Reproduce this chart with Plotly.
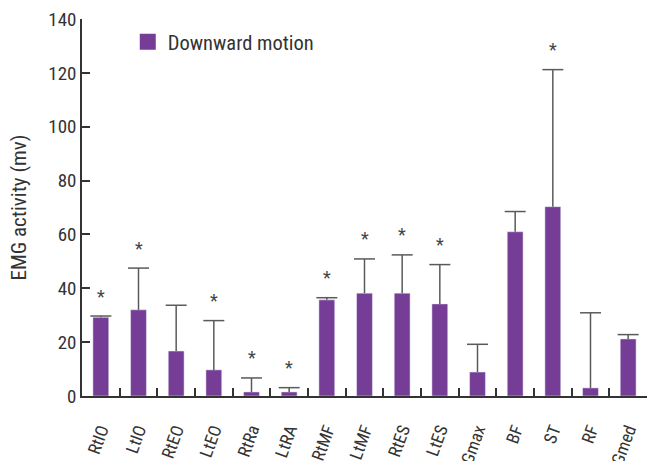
import plotly.graph_objects as go

categories = ["RtIO", "LtIO", "RtEO", "LtEO", "RtRa", "LtRA", "RtMF", "LtMF",
              "RtES", "LtES", "Gmax", "BF", "ST", "RF", "Gmed"]
means = [29.2, 32.0, 16.7, 9.7, 1.5, 1.5, 35.7, 38.2, 38.2, 34.2, 8.9, 61.0, 70.3, 3.0, 21.2]
sd = [0.5, 15.5, 17.0, 18.3, 5.2, 1.6, 0.8, 12.7, 14.2, 14.6, 10.3, 7.5, 50.9, 27.9, 1.6]
significant = [True, True, False, True, True, True, True, True, True, True,
               False, False, True, False, False]
y_ticks = [0, 20, 40, 60, 80, 100, 120, 140]

FONT = "Roboto Condensed, Liberation Sans Narrow, sans-serif"
PURPLE = "#753D96"
GREY = "#5a5a5a"

tops = [m + s for m, s in zip(means, sd)]

fig = go.Figure()
fig.add_trace(go.Bar(x=categories, y=means, marker_color=PURPLE, width=0.42,
                     showlegend=False, hoverinfo="skip"))

# error bar stems
sx, sy = [], []
for c, m, t in zip(categories, means, tops):
    sx += [c, c, None]
    sy += [m, t, None]
fig.add_trace(go.Scatter(x=sx, y=sy, mode="lines", line=dict(color=GREY, width=1.5),
                         showlegend=False, hoverinfo="skip"))
# error bar caps
fig.add_trace(go.Scatter(x=categories, y=tops, mode="markers",
                         marker=dict(symbol="line-ew", size=15,
                                     line=dict(color=GREY, width=1.5)),
                         showlegend=False, hoverinfo="skip"))
# legend entry
fig.add_trace(go.Scatter(x=[None], y=[None], mode="markers", name="Downward motion",
                         marker=dict(symbol="square", size=18, color=PURPLE)))

for c, t, s in zip(categories, tops, significant):
    if s:
        fig.add_annotation(x=c, y=t, text="*", showarrow=False, yshift=20,
                           yanchor="middle", font=dict(family=FONT, size=18, color="#444"))

fig.update_layout(
    width=656, height=461,
    margin=dict(l=82, r=9, t=19, b=65, autoexpand=False),
    plot_bgcolor="white", paper_bgcolor="white",
    font=dict(family=FONT, color="#333"),
    legend=dict(x=0.081, y=0.992, xanchor="left", yanchor="top",
                font=dict(family=FONT, size=20.5, color="#333"),
                bgcolor="rgba(0,0,0,0)", itemwidth=30),
)
fig.update_xaxes(type="category", tickangle=-70, ticks="inside", tickson="boundaries",
                 ticklen=8, tickwidth=1.5, tickcolor="#333", automargin=False,
                 showline=True, linecolor="#333", linewidth=1.5, showgrid=False,
                 tickfont=dict(family=FONT, size=17.5, color="#333"),
                 ticklabelstandoff=15, ticklabeloverflow="allow", range=[-0.5, 14.5])
fig.update_yaxes(range=[0, 140], tickvals=y_ticks, ticks="inside", ticklen=8,
                 tickwidth=1.5, tickcolor="#333", showline=True, linecolor="#333",
                 linewidth=1.5, showgrid=False, zeroline=False, automargin=False,
                 tickfont=dict(family=FONT, size=19, color="#333"),
                 ticklabeloverflow="allow",
                 title=dict(text="EMG activity (mv)", font=dict(family=FONT, size=21, color="#333"),
                            standoff=16))

# remove the browser's default 8px body margin so the figure fills the window
fig.write_html("out.html", config={"displayModeBar": False},
               post_script="document.body.style.margin='0';")
